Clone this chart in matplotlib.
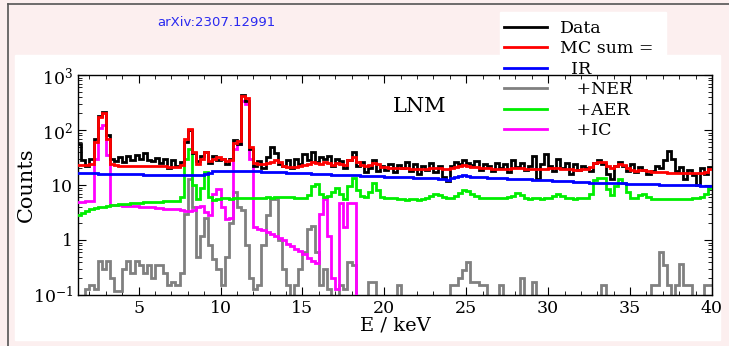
import numpy as np
import matplotlib
matplotlib.use('Agg')
import matplotlib.pyplot as plt
from matplotlib.patches import Rectangle
from matplotlib.lines import Line2D
from matplotlib.ticker import FixedLocator, FixedFormatter, MultipleLocator

# energy binning (keV), 0.25 keV bins from 1.25 to 40
e_lo = 1.25
e_hi = 40.0
bin_width = 0.25

data_counts = [
    55, 28, 22, 30, 70, 180, 210, 80, 30, 27,
    32, 26, 33, 28, 35, 30, 38, 29, 27, 31,
    25, 30, 20, 28, 22, 26, 60, 100, 38, 27,
    33, 40, 25, 34, 28, 30, 24, 30, 65, 55,
    430, 330, 45, 22, 27, 20, 32, 50, 38, 24,
    22, 28, 20, 30, 24, 36, 28, 40, 26, 32,
    30, 34, 22, 30, 27, 20, 28, 40, 22, 26,
    17, 20, 28, 18, 22, 19, 24, 17, 23, 20,
    26, 18, 24, 16, 22, 19, 25, 17, 22, 14,
    12, 22, 26, 24, 28, 25, 23, 27, 19, 24,
    22, 18, 25, 20, 24, 17, 28, 21, 25, 19,
    22, 34, 13, 24, 36, 22, 18, 30, 20, 25,
    16, 24, 19, 22, 20, 18, 25, 28, 24, 16,
    13, 22, 26, 22, 18, 24, 17, 21, 19, 16,
    18, 22, 20, 28, 42, 30, 18, 21, 13, 19,
    15, 10, 20, 16, 21,
]

mc_sum = [
    23, 23, 23, 24, 60, 170, 200, 70, 24, 23,
    22.5, 22.5, 22.4, 22.3, 22.3, 22.2, 22.2, 22.1, 22.0, 22.0,
    21.8, 21.7, 21.6, 21.5, 21.5, 23, 70, 105, 40, 24,
    30, 40, 27, 30, 32, 30, 27, 28, 58, 62,
    420, 380, 50, 25, 24, 24, 25, 26, 28, 26,
    22, 21.5, 21.5, 21.5, 22, 23, 24, 26, 25, 24,
    26, 25, 23, 25, 24, 23, 28, 32, 26, 23,
    22, 23, 25, 24, 21.5, 21, 20.5, 20.5, 20.3, 20,
    20, 19.8, 19.8, 19.6, 19.6, 19.8, 20.2, 20.5, 20, 19.6,
    19.8, 20.5, 21.5, 22.5, 23, 22.5, 21.5, 21, 20.5, 20.3,
    20.0, 19.8, 19.8, 19.6, 19.7, 19.8, 20, 20.5, 20.2, 19.6,
    19.6, 19.5, 19.4, 19.5, 19.6, 20.0, 20.3, 20.0, 19.5, 19.3,
    19.2, 19.0, 19.0, 19.2, 19.5, 21, 25, 26, 26, 22,
    20, 22, 24.5, 23, 20, 18.5, 18.2, 18.5, 18.8, 18,
    17.5, 17.2, 17.0, 16.9, 16.8, 16.7, 16.6, 16.6, 16.5, 16.5,
    16.5, 16.6, 16.8, 17.5, 19.5,
]

ir = [
    16.5, 16.4, 16.3, 16.2, 16.2, 16.1, 16.0, 16.0, 15.9, 15.9,
    15.8, 15.8, 15.7, 15.7, 15.6, 15.6, 15.5, 15.5, 15.4, 15.4,
    15.3, 15.3, 15.2, 15.2, 15.1, 15.0, 15.0, 15.0, 14.9, 14.9,
    15.0, 15.6, 16.8, 17.8, 18.2, 18.3, 18.2, 18.2, 18.1, 18.0,
    18.0, 17.9, 17.8, 17.7, 17.6, 17.5, 17.4, 17.3, 17.2, 17.1,
    17.0, 16.8, 16.7, 16.5, 16.4, 16.3, 16.2, 16.0, 15.9, 15.8,
    15.7, 15.6, 15.5, 15.4, 15.3, 15.2, 15.1, 15.0, 14.9, 14.8,
    14.7, 14.6, 14.5, 14.4, 14.3, 14.2, 14.1, 14.0, 14.0, 13.9,
    13.8, 13.7, 13.6, 13.5, 13.5, 13.4, 13.3, 13.2, 13.0, 12.6,
    12.4, 13.2, 14.2, 14.8, 14.9, 14.6, 14.2, 13.9, 13.8, 13.7,
    13.6, 13.5, 13.4, 13.3, 13.2, 13.1, 13.0, 12.9, 12.8, 12.7,
    12.6, 12.5, 12.4, 12.3, 12.2, 12.1, 12.0, 11.9, 11.8, 11.7,
    11.6, 11.5, 11.4, 11.3, 11.2, 11.1, 11.0, 11.0, 10.9, 10.9,
    10.8, 10.8, 10.7, 10.7, 10.6, 10.6, 10.5, 10.5, 10.4, 10.4,
    10.3, 10.3, 10.2, 10.2, 10.1, 10.1, 10.0, 10.0, 9.9, 9.9,
    9.8, 9.8, 9.7, 9.7, 9.6,
]

# 0.01 = empty bin (below the axis)
ner = [
    0.01, 0.01, 0.13, 0.15, 0.13, 0.42, 0.3, 0.42, 0.2, 0.12,
    0.12, 0.3, 0.42, 0.25, 0.42, 0.35, 0.25, 0.35, 0.2, 0.35,
    0.35, 0.25, 0.15, 0.17, 0.15, 0.25, 3.0, 13, 4.0, 0.5,
    1.2, 2.5, 0.8, 0.45, 0.3, 0.15, 0.5, 2.0, 7.4, 4.0,
    3.5, 0.8, 0.2, 0.13, 0.15, 0.8, 2.8, 5.5, 5.5, 1.0,
    0.3, 0.15, 0.01, 0.15, 0.3, 0.6, 1.6, 1.8, 0.6, 0.15,
    0.3, 0.13, 0.01, 0.01, 0.15, 0.13, 0.4, 0.35, 0.01, 0.01,
    0.01, 0.17, 0.17, 0.01, 0.01, 0.01, 0.01, 0.01, 0.15, 0.01,
    0.01, 0.01, 0.01, 0.01, 0.01, 0.01, 0.01, 0.01, 0.01, 0.01,
    0.01, 0.15, 0.15, 0.2, 0.28, 0.4, 0.17, 0.17, 0.15, 0.15,
    0.01, 0.01, 0.01, 0.15, 0.01, 0.01, 0.01, 0.01, 0.2, 0.01,
    0.01, 0.17, 0.01, 0.01, 0.01, 0.01, 0.01, 0.01, 0.01, 0.01,
    0.01, 0.01, 0.01, 0.01, 0.01, 0.01, 0.01, 0.01, 0.15, 0.01,
    0.01, 0.01, 0.01, 0.01, 0.01, 0.01, 0.01, 0.01, 0.01, 0.01,
    0.15, 0.15, 0.6, 0.35, 0.15, 0.01, 0.15, 0.36, 0.15, 0.15,
    0.01, 0.01, 0.01, 0.15, 0.15,
]

aer = [
    2.9, 3.1, 3.4, 3.6, 3.8, 3.9, 4.0, 4.2, 4.3, 4.4,
    4.5, 4.6, 4.6, 4.7, 4.8, 4.8, 4.9, 4.9, 5.0, 5.0,
    5.0, 5.1, 5.1, 5.2, 5.2, 6.0, 30, 45, 10, 5.5,
    9, 17, 6, 5.4, 5.6, 5.7, 5.7, 5.6, 5.7, 5.8,
    5.8, 5.7, 5.8, 5.9, 5.8, 5.9, 6.0, 5.9, 6.0, 6.1,
    6.0, 6.1, 6.0, 5.9, 5.8, 5.9, 6.5, 9.5, 10.5, 7.0,
    6.0, 6.2, 7.5, 9.0, 7.0, 5.5, 9.5, 13.5, 8.0, 6.2,
    6.0, 7.5, 10.8, 8.0, 6.0, 5.8, 5.7, 5.8, 5.6, 5.5,
    5.4, 5.6, 5.5, 5.4, 5.6, 5.7, 6.2, 7.0, 6.5, 6.0,
    5.8, 5.9, 6.3, 7.2, 8.1, 7.8, 6.8, 6.2, 5.9, 5.8,
    5.7, 5.8, 5.8, 5.7, 5.8, 6.0, 6.3, 7.2, 6.5, 5.8,
    5.6, 5.7, 5.8, 5.6, 5.7, 5.8, 6.2, 7.0, 6.4, 5.8,
    5.7, 5.6, 5.7, 5.8, 5.9, 7.0, 12.5, 13.4, 13.4, 8.5,
    6.5, 9.5, 13.0, 11.0, 7.5, 5.8, 5.7, 6.5, 7.0, 6.0,
    5.6, 5.5, 5.6, 5.5, 5.6, 5.5, 5.6, 5.6, 5.5, 5.6,
    5.7, 5.8, 6.0, 6.8, 8.8,
]

ic = [
    4.9, 5.0, 5.1, 5.2, 30, 110, 125, 35, 4.4, 4.3,
    4.3, 4.2, 4.2, 4.1, 4.1, 4.0, 4.0, 3.9, 3.9, 3.8,
    3.8, 3.7, 3.7, 3.6, 3.6, 3.5, 3.4, 3.4, 3.5, 4.0,
    4.2, 3.2, 2.8, 7.0, 8.5, 4.0, 2.4, 2.5, 45, 55,
    330, 300, 30, 1.7, 1.6, 1.5, 1.4, 1.3, 1.2, 1.1,
    1.0, 0.85, 0.78, 0.70, 0.62, 0.55, 0.48, 0.42, 0.38, 3.0,
    5.5, 1.2, 0.2, 0.13, 4.8, 1.7, 4.8, 4.8, 0.01, 0.01,
    0.01, 0.01, 0.01, 0.01, 0.01, 0.01, 0.01, 0.01, 0.01, 0.01,
    0.01, 0.01, 0.01, 0.01, 0.01, 0.01, 0.01, 0.01, 0.01, 0.01,
    0.01, 0.01, 0.01, 0.01, 0.01, 0.01, 0.01, 0.01, 0.01, 0.01,
    0.01, 0.01, 0.01, 0.01, 0.01, 0.01, 0.01, 0.01, 0.01, 0.01,
    0.01, 0.01, 0.01, 0.01, 0.01, 0.01, 0.01, 0.01, 0.01, 0.01,
    0.01, 0.01, 0.01, 0.01, 0.01, 0.01, 0.01, 0.01, 0.01, 0.01,
    0.01, 0.01, 0.01, 0.01, 0.01, 0.01, 0.01, 0.01, 0.01, 0.01,
    0.01, 0.01, 0.01, 0.01, 0.01, 0.01, 0.01, 0.01, 0.01, 0.01,
    0.01, 0.01, 0.01, 0.01, 0.01,
]

ytick_vals = [0.1, 1, 10, 100, 1000]
ytick_labels = [r'$10^{-1}$', '1', '10', r'$10^{2}$', r'$10^{3}$']
legend_labels = ['Data', 'MC sum =', '  IR', '   +NER', '   +AER', '   +IC']

plt.rcParams['font.family'] = 'DejaVu Serif'
plt.rcParams['mathtext.fontset'] = 'dejavuserif'

W, H = 729, 346
fig = plt.figure(figsize=(W / 100, H / 100), dpi=100, facecolor='#fcefef')

# white picture area + the bit that the legend sticks out of
fig.patches.append(Rectangle((15 / W, 1 - 340 / H), 705 / W, 285 / H,
                             transform=fig.transFigure, color='white', zorder=-10))
fig.patches.append(Rectangle((500 / W, 1 - 56 / H), 166 / W, 44 / H,
                             transform=fig.transFigure, color='white', zorder=-10))
# screenshot frame
fig.add_artist(Line2D([8 / W, 8 / W], [0, 1 - 4 / H], transform=fig.transFigure,
                      color='#555555', lw=1.2))
fig.add_artist(Line2D([8 / W, 1], [1 - 4 / H, 1 - 4 / H], transform=fig.transFigure,
                      color='#555555', lw=1.2))

ax = fig.add_axes([78 / W, 1 - 295 / H, 634 / W, 220 / H])
ax.set_facecolor('none')

edges = np.arange(e_lo, e_hi + bin_width / 2, bin_width)
lw = 2.0
ax.stairs(ner, edges, color='#808080', lw=lw, baseline=None, zorder=2)
ax.stairs(ic, edges, color='#ff00ff', lw=lw, baseline=None, zorder=3)
ax.stairs(aer, edges, color='#00ee00', lw=lw, baseline=None, zorder=4)
ax.stairs(data_counts, edges, color='black', lw=lw, baseline=None, zorder=5)
ax.stairs(ir, edges, color='#0000ff', lw=lw, baseline=None, zorder=6)
ax.stairs(mc_sum, edges, color='#ff0000', lw=lw, baseline=None, zorder=7)

ax.set_yscale('log')
ax.set_xlim(1.3, 40)
ax.set_ylim(0.1, 1000)
ax.yaxis.set_major_locator(FixedLocator(ytick_vals))
ax.yaxis.set_major_formatter(FixedFormatter(ytick_labels))
ax.xaxis.set_major_locator(MultipleLocator(5))
ax.xaxis.set_minor_locator(MultipleLocator(1))
ax.tick_params(which='both', direction='in', top=True, right=True, labelsize=12.5)
ax.tick_params(which='major', length=6)
ax.tick_params(which='minor', length=3)
for s in ax.spines.values():
    s.set_linewidth(1.0)

ax.set_xlabel('E / keV', fontsize=14, labelpad=0)
ax.set_ylabel('Counts', fontsize=15)
ax.yaxis.set_label_coords(-0.066, 0.5)

fig.text(420 / W, 1 - 107 / H, 'LNM', fontsize=15, ha='center', va='center')

handles = [Line2D([], [], color=c, lw=lw) for c in
           ['black', '#ff0000', '#0000ff', '#808080', '#00ee00', '#ff00ff']]
fig.legend(handles, legend_labels, loc='upper left',
           bbox_to_anchor=(504 / W, 1 - 20 / H), frameon=False, fontsize=12.5,
           handlelength=2.5, handletextpad=0.7, labelspacing=0.2, borderpad=0,
           borderaxespad=0)

fig.text(216 / W, 1 - 23 / H, 'arXiv:2307.12991', color='#2a2af0', fontsize=9.5,
         family='DejaVu Sans', ha='center', va='center')

fig.savefig('out.png', dpi=100, facecolor=fig.get_facecolor())
